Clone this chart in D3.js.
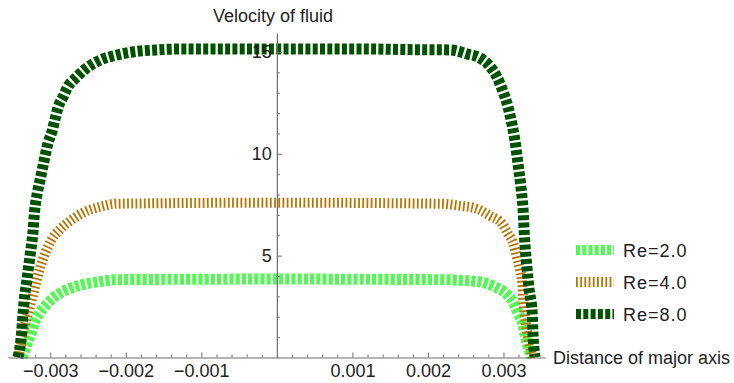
<!DOCTYPE html>
<html>
<head>
<meta charset="utf-8">
<script src="https://cdn.jsdelivr.net/npm/d3@7"></script>
<style>
  html, body { margin: 0; padding: 0; background: #fff; }
  svg { display: block; font-family: "Liberation Sans", Arial, sans-serif; }
</style>
</head>
<body>
<svg id="chart" width="734" height="383"></svg>
<script>
// ---- data (x in metres, velocity) ----
const seriesNames = ['Re=2.0', 'Re=4.0', 'Re=8.0'];

const re2X = [-0.00337, -0.00330, -0.00325, -0.00321, -0.00314, -0.00305, -0.00294, -0.00278, -0.00257, -0.00234, -0.00212, 0,
  0.00216, 0.00252, 0.00273, 0.00291, 0.00305, 0.00313, 0.00319, 0.00325, 0.00328, 0.00331, 0.00335, 0.00337];
const re2V = [0, 0.74, 1.23, 1.72, 2.2, 2.6, 2.99, 3.33, 3.58, 3.73, 3.82, 3.85,
  3.82, 3.77, 3.68, 3.43, 3.09, 2.7, 2.2, 1.72, 1.23, 0.74, 0.25, 0];

const re4X = [-0.00342, -0.00338, -0.00333, -0.00327, -0.00322, -0.00318, -0.00313, -0.00307, -0.00298, -0.00287, -0.00274, -0.00257, -0.00234, -0.00212, 0,
  0.00216, 0.00242, 0.00265, 0.00282, 0.00298, 0.00306, 0.00313, 0.00318, 0.00322, 0.00325, 0.00326, 0.00328, 0.00331, 0.00335, 0.00339];
const re4V = [0, 0.8, 1.7, 2.5, 3.2, 3.8, 4.46, 5.1, 5.8, 6.3, 6.7, 7.1, 7.4, 7.55, 7.6,
  7.55, 7.45, 7.3, 6.96, 6.57, 6.08, 5.6, 4.9, 4.3, 3.63, 2.94, 2.16, 1.3, 0.54, 0];

const re8X = [-0.00343, -0.00340, -0.00338, -0.00336, -0.00334, -0.00331, -0.00327, -0.00323, -0.00321, -0.00317, -0.00313, -0.00308,
  -0.00303, -0.00298, -0.00294, -0.00290, -0.00283, -0.00277, -0.00265, -0.00252, -0.00234, -0.00212, -0.00191, -0.00160, -0.00120, 0,
  0.00120, 0.00163, 0.00229, 0.00252, 0.00269, 0.00282, 0.00291, 0.00299, 0.00306, 0.00311, 0.00315, 0.00319,
  0.00323, 0.00326, 0.00328, 0.00331, 0.00334, 0.00338, 0.00339, 0.00342];
const re8V = [0, 0.54, 1.23, 2.2, 3.0, 3.8, 4.95, 6.13, 7.1, 8.1, 8.8, 9.7,
  10.53, 11.07, 11.66, 12.25, 12.8, 13.28, 13.77, 14.21, 14.6, 14.85, 15.0, 15.1, 15.15, 15.15,
  15.15, 15.12, 15.1, 14.9, 14.7, 14.3, 13.8, 13.1, 12.3, 11.5, 10.7, 9.6,
  8.4, 7.25, 5.8, 4.46, 3.33, 2.2, 1.23, 0];

const xMajorTicks = [-0.003, -0.002, -0.001, 0.001, 0.002, 0.003];
const xTickLabels = ['\u22120.003', '\u22120.002', '\u22120.001', '0.001', '0.002', '0.003'];
const yMajorTicks = [5, 10, 15];
const yTickLabels = ['5', '10', '15'];

(function () {
  'use strict';

  const svg = d3.select('#chart');

  // scales (axes cross at the origin, Mathematica style)
  const x = d3.scaleLinear().domain([-0.00356, 0.00355]).range([8, 545]);
  const y = d3.scaleLinear().domain([0, 15.93]).range([357.5, 33]);

  const series = [
    { name: seriesNames[0], xs: re2X, vs: re2V, color: '#55f655', width: 11, dash: '4.2,2' },
    { name: seriesNames[1], xs: re4X, vs: re4V, color: '#b87508', width: 10, dash: '1.8,2.4' },
    { name: seriesNames[2], xs: re8X, vs: re8V, color: '#005200', width: 11, dash: '5,2.3' }
  ];

  const line = d3.line()
    .x(d => x(d[0]))
    .y(d => y(d[1]))
    .curve(d3.curveMonotoneX);

  // curves
  const gLines = svg.append('g').attr('class', 'curves');
  series.forEach(s => {
    const pts = s.xs.map((xv, i) => [xv, s.vs[i]]);
    gLines.append('path')
      .datum(pts)
      .attr('d', line)
      .attr('fill', 'none')
      .attr('stroke', s.color)
      .attr('stroke-width', s.width)
      .attr('stroke-dasharray', s.dash)
      .attr('stroke-linecap', 'butt');
  });

  // ---- axes ----
  const axisColor = '#6e6e6e';
  const textColor = '#1e1e1e';

  // x minor ticks every 0.0002
  const xMinor = d3.range(-17, 18).map(i => i * 0.0002).filter(v => Math.abs(v) > 1e-9 && Math.abs(Math.round(v * 1000) - v * 1000) > 1e-6);
  svg.append('g')
    .attr('transform', `translate(0,${y(0)})`)
    .call(d3.axisBottom(x).tickValues(xMinor).tickSize(-3).tickSizeOuter(0).tickFormat(''))
    .call(g => g.select('.domain').remove())
    .call(g => g.selectAll('line').attr('stroke', axisColor));

  const xAxis = svg.append('g')
    .attr('transform', `translate(0,${y(0)})`)
    .call(d3.axisBottom(x)
      .tickValues(xMajorTicks)
      .tickSize(-5)
      .tickSizeOuter(0)
      .tickPadding(7)
      .tickFormat((d, i) => xTickLabels[i]));
  xAxis.select('.domain').attr('stroke', axisColor).attr('stroke-width', 1.2);
  xAxis.selectAll('line').attr('stroke', axisColor);
  xAxis.selectAll('text')
    .attr('fill', textColor)
    .style('font-size', '18px')
    .style('font-family', '"Liberation Sans", Arial, sans-serif');

  // y minor ticks every 1
  const yMinor = d3.range(1, 16).filter(v => v % 5 !== 0);
  svg.append('g')
    .attr('transform', `translate(${x(0)},0)`)
    .call(d3.axisLeft(y).tickValues(yMinor).tickSize(-3).tickSizeOuter(0).tickFormat(''))
    .call(g => g.select('.domain').remove())
    .call(g => g.selectAll('line').attr('stroke', axisColor));

  const yAxis = svg.append('g')
    .attr('transform', `translate(${x(0)},0)`)
    .call(d3.axisLeft(y)
      .tickValues(yMajorTicks)
      .tickSize(-5)
      .tickSizeOuter(0)
      .tickPadding(5)
      .tickFormat((d, i) => yTickLabels[i]));
  yAxis.select('.domain').attr('stroke', axisColor).attr('stroke-width', 1.2);
  yAxis.selectAll('line').attr('stroke', axisColor);
  yAxis.selectAll('text')
    .attr('fill', textColor)
    .style('font-size', '18px')
    .style('font-family', '"Liberation Sans", Arial, sans-serif');

  // axis labels
  svg.append('text')
    .attr('x', 213).attr('y', 22)
    .attr('fill', textColor)
    .style('font-size', '18px')
    .text('Velocity of fluid');

  svg.append('text')
    .attr('x', 553).attr('y', 364)
    .attr('fill', textColor)
    .style('font-size', '18px')
    .text('Distance of major axis');

  // ---- legend ----
  const legend = svg.append('g').attr('class', 'legend');
  const legendY = [250, 282, 314];
  series.forEach((s, i) => {
    legend.append('line')
      .attr('x1', 576).attr('x2', 614)
      .attr('y1', legendY[i]).attr('y2', legendY[i])
      .attr('stroke', s.color)
      .attr('stroke-width', 10)
      .attr('stroke-dasharray', s.dash);
    legend.append('text')
      .attr('x', 623).attr('y', legendY[i] + 7)
      .attr('fill', '#222')
      .style('font-size', '18px')
      .style('letter-spacing', '1px')
      .text(s.name);
  });
})();
</script>
</body>
</html>
